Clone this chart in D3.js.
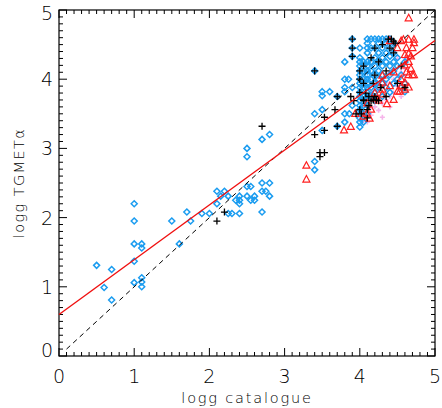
<!DOCTYPE html>
<html><head><meta charset="utf-8">
<script src="https://cdn.jsdelivr.net/npm/d3@7"></script>
<style>body{margin:0;background:#fff}svg{display:block}text{font-family:"DejaVu Sans",sans-serif;fill:#000}</style>
</head><body><svg id="c" width="442" height="408"></svg>
<script>
const xTicks=[0,1,2,3,4,5];
const yTicks=[0,1,2,3,4,5];
const xTitle="logg catalogue";
const yTitle="logg TGMETα";
const fitLine=[[0,0.6],[5,4.56]];
const oneToOne=[[0.1,0.1],[5,5]];
// blue diamonds
const blueX=[0.5,0.6,0.7,0.7,1.0,1.0,1.0,1.0,1.0,1.1,1.1,1.1,1.1,1.1,1.5,1.6,1.7,1.75,1.9,2.0,2.1,2.1,2.15,2.2,2.25,2.25,2.3,2.35,2.4,2.4,2.4,2.4,2.5,2.5,2.5,2.55,2.5,2.55,2.6,2.6,2.7,2.7,2.7,2.75,2.7,2.8,2.8,2.8,3.4,3.4,3.4,3.4,3.5,3.5,3.5,3.5,3.6,3.7,3.7,3.8,3.8,3.85,3.8,3.8,3.8,3.8,3.86,3.9,3.9,3.9,3.9,3.9,
4.0,4.0,4.0,4.0,4.0,4.0,4.0,4.0,4.0,4.0,4.0,4.0,4.0,4.0,4.0,4.0,4.0,4.0,
4.05,4.05,4.05,4.05,4.05,4.05,4.05,4.05,
4.1,4.1,4.1,4.1,4.1,4.1,4.1,4.1,4.1,4.1,4.1,4.1,4.1,4.1,4.1,4.1,
4.15,4.15,4.15,4.15,4.15,4.15,4.15,
4.2,4.2,4.2,4.2,4.2,4.2,4.2,4.2,
4.25,4.25,4.25,4.25,4.25,4.25,4.25,
4.3,4.3,4.3,4.3,4.3,4.3,4.3,
4.35,4.35,4.35,4.35,4.35,4.35,
4.4,4.4,4.4,4.4,4.4,4.4,
4.45,4.45,4.45,4.45,4.45,
4.5,4.5,4.5,4.55,4.55,4.6,4.6,4.6];
const blueY=[1.31,0.99,1.25,0.81,2.2,1.95,1.62,1.37,1.06,1.62,1.56,1.13,1.07,1.0,1.95,1.62,2.08,1.95,2.06,2.06,2.38,2.2,2.31,2.38,2.31,2.06,2.06,2.25,2.31,2.25,2.2,2.06,3.0,2.88,2.45,2.45,2.31,2.25,2.31,2.25,3.13,2.5,2.38,2.38,2.08,3.2,2.5,2.31,4.12,3.5,2.81,2.69,3.82,3.76,3.56,3.26,3.82,3.32,3.75,4.25,4.0,4.0,3.88,3.82,3.5,3.38,3.5,4.58,4.45,4.33,3.88,3.62,
3.31,3.38,3.44,3.5,3.56,3.62,3.69,3.75,3.81,3.88,3.94,4.0,4.06,4.12,4.19,4.25,4.31,4.45,
3.38,3.5,3.62,3.75,3.88,4.0,4.12,4.25,
3.5,3.62,3.69,3.75,3.81,3.88,3.94,4.0,4.06,4.12,4.19,4.25,4.38,4.45,4.52,4.58,
3.75,3.88,4.0,4.12,4.25,4.45,4.58,
3.69,3.81,3.94,4.06,4.19,4.31,4.45,4.58,
3.88,4.0,4.12,4.25,4.38,4.52,4.58,
3.75,3.94,4.06,4.19,4.31,4.45,4.58,
3.88,4.0,4.25,4.38,4.52,4.58,
3.81,4.06,4.19,4.33,4.45,4.58,
3.94,4.12,4.25,4.38,4.52,
4.0,4.19,4.31,3.88,4.06,3.82,3.94,4.25];
// black plus signs
const plusX=[2.1,2.2,2.7,3.4,3.47,3.53,3.47,3.53,3.53,3.67,3.7,3.7,3.4,3.9,3.9,3.9,3.88,3.92,3.95,4.0,4.0,4.0,4.0,4.02,4.05,4.05,4.05,4.1,4.1,4.12,4.15,4.15,4.18,4.2,4.2,4.2,4.25,4.25,4.28,4.3,4.35,4.38,4.42,4.45,4.47,4.4,4.45,4.5,4.55,4.6,4.12,4.08,4.35,4.05,4.18,4.22];
const plusY=[1.95,2.08,3.32,3.2,2.94,2.94,2.88,3.45,3.26,3.56,3.75,3.32,4.12,4.58,4.45,4.33,3.75,3.69,3.5,3.56,3.81,4.0,4.12,3.5,3.69,3.94,4.19,3.56,3.44,3.75,3.69,4.31,3.94,3.75,4.06,4.45,3.69,4.25,3.88,4.5,4.12,4.58,4.58,4.55,4.52,4.45,4.38,3.94,4.19,3.88,3.62,3.8,3.75,3.7,3.7,3.7];
// red triangles
const triX=[3.29,3.29,3.79,3.88,3.94,4.05,4.09,4.13,4.1,4.15,4.2,4.25,4.36,4.3,4.3,4.3,4.3,4.4,4.45,4.5,4.53,4.55,4.6,4.6,4.62,4.65,4.68,4.65,4.6,4.65,4.7,4.65,4.72,4.58,4.65,4.72,4.72,4.65,4.5,4.55,4.4,4.2,4.62,4.68,4.7,4.6,4.55,4.45];
const triY=[2.75,2.55,3.26,3.31,3.5,3.46,3.5,3.43,3.65,3.56,3.72,3.69,3.64,3.85,3.95,4.05,3.78,3.9,4.1,3.82,3.82,4.0,4.2,4.35,4.45,4.37,4.33,4.25,3.95,3.88,4.06,4.06,4.06,4.57,4.57,4.57,4.52,4.88,4.45,4.55,4.55,3.8,4.1,4.15,4.45,3.85,3.9,3.7];
// pink small symbols
const pinkX=[4.05,4.1,4.15,4.2,4.25,4.3,4.35,4.4,4.45,4.5,4.55,4.6,4.45,4.4,4.35,4.25,4.2,4.15,4.5,4.55,4.6,4.4,4.3,4.15,4.5,4.6];
const pinkY=[3.4,3.38,3.48,3.6,3.55,3.65,3.7,3.75,3.8,3.9,4.1,4.15,4.0,4.1,3.95,3.85,3.9,3.8,4.05,3.75,4.05,3.6,3.45,3.6,4.3,4.3];

const svg=d3.select("#c");
const L=59,R=435,T=10,B=356;
const x=d3.scaleLinear().domain([0,5]).range([L,R]);
const y=d3.scaleLinear().domain([0,5]).range([B,T]);

// frame + inward ticks on all four sides
const minor=d3.range(0,51).map(i=>i/10);
const tk=svg.append("g").attr("stroke","#000").attr("stroke-width",1);
minor.forEach(v=>{
  const len=(Math.abs(v-Math.round(v))<1e-9)?8:4;
  tk.append("line").attr("x1",x(v)).attr("x2",x(v)).attr("y1",B).attr("y2",B-len);
  tk.append("line").attr("x1",x(v)).attr("x2",x(v)).attr("y1",T).attr("y2",T+len);
  tk.append("line").attr("y1",y(v)).attr("y2",y(v)).attr("x1",L).attr("x2",L+len);
  tk.append("line").attr("y1",y(v)).attr("y2",y(v)).attr("x1",R).attr("x2",R-len);
});
svg.append("rect").attr("x",L).attr("y",T).attr("width",R-L).attr("height",B-T)
  .attr("fill","none").attr("stroke","#000").attr("stroke-width",1.2);

// tick labels
svg.append("g").selectAll("text").data(xTicks).join("text")
  .attr("x",d=>x(d)).attr("y",B+27).attr("text-anchor","middle")
  .attr("font-size",19).attr("font-weight",300).text(d=>d);
svg.append("g").selectAll("text").data(yTicks).join("text")
  .attr("x",L-6).attr("y",d=>d===0?357:Math.max(y(d)+7,20)).attr("text-anchor","end")
  .attr("font-size",19).attr("font-weight",300).text(d=>d);
svg.append("text").attr("x",(L+R)/2).attr("y",403).attr("text-anchor","middle")
  .attr("font-size",14.5).attr("font-weight",300).attr("letter-spacing",1.8).text(xTitle);
svg.append("text").attr("transform",`translate(24,${(T+B)/2}) rotate(-90)`).attr("text-anchor","middle")
  .attr("font-size",14.5).attr("font-weight",300).attr("letter-spacing",1.4).text(yTitle);

const plot=svg.append("g");
// pink
plot.append("g").selectAll("path").data(pinkX.map((v,i)=>[v,pinkY[i]])).join("path")
  .attr("d",d=>`M${x(d[0])-2.5},${y(d[1])}h5M${x(d[0])},${y(d[1])-2.5}v5`)
  .attr("stroke","#f6b4ea").attr("stroke-width",1.6).attr("fill","none");
// blue diamonds
plot.append("g").selectAll("path").data(blueX.map((v,i)=>[v,blueY[i]])).join("path")
  .attr("d",d=>{const cx=x(d[0]),cy=y(d[1]),r=3;return `M${cx},${cy-r}L${cx+r},${cy}L${cx},${cy+r}L${cx-r},${cy}Z`;})
  .attr("stroke","#1a9cf0").attr("stroke-width",1.5).attr("fill","none");
// red triangles
plot.append("g").selectAll("path").data(triX.map((v,i)=>[v,triY[i]])).join("path")
  .attr("d",d=>{const cx=x(d[0]),cy=y(d[1]);return `M${cx},${cy-4}L${cx+3.5},${cy+2.5}L${cx-3.5},${cy+2.5}Z`;})
  .attr("stroke","#ff2020").attr("stroke-width",1.2).attr("fill","none");
// black plus
plot.append("g").selectAll("path").data(plusX.map((v,i)=>[v,plusY[i]])).join("path")
  .attr("d",d=>`M${x(d[0])-3.5},${y(d[1])}h7M${x(d[0])},${y(d[1])-3.5}v7`)
  .attr("stroke","#000").attr("stroke-width",1.3).attr("fill","none");

const line=d3.line().x(d=>x(d[0])).y(d=>y(d[1]));
plot.append("path").attr("d",line(oneToOne)).attr("stroke","#000").attr("stroke-width",1).attr("stroke-dasharray","5,4").attr("fill","none");
plot.append("path").attr("d",line(fitLine)).attr("stroke","#f01010").attr("stroke-width",1.4).attr("fill","none");
</script></body></html>
